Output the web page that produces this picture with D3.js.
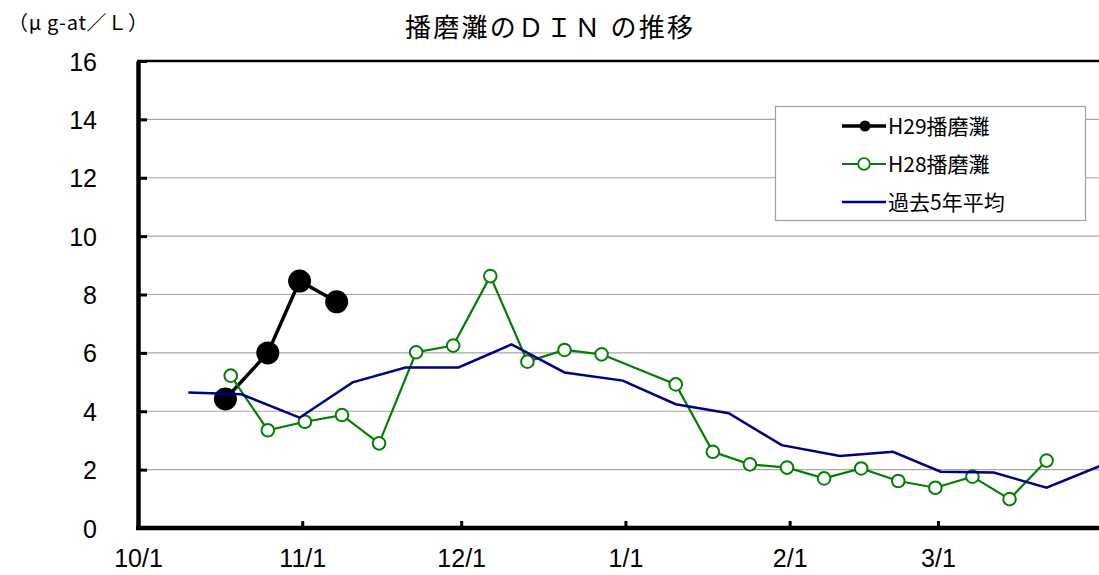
<!DOCTYPE html>
<html><head><meta charset="utf-8">
<script src="https://cdn.jsdelivr.net/npm/d3@7"></script>
<style>
html,body{margin:0;padding:0;background:#fff;}
svg{display:block;}
</style>
</head><body>
<svg id="chart" width="1099" height="575"></svg>
<script>
// ---- data ----
const title = "播磨灘のＤＩＮ の推移";
const unitLabel = "（μ g-at／Ｌ）";
const seriesNames = ["H29播磨灘", "H28播磨灘", "過去5年平均"];
const xTickLabels = ["10/1", "11/1", "12/1", "1/1", "2/1", "3/1"];
const yTicks = [0, 2, 4, 6, 8, 10, 12, 14, 16];

const h29Dates = ["10/17", "10/25", "10/31", "11/7"];
const h29Values = [4.42, 6.0, 8.46, 7.75];

const h28Dates = ["10/18", "10/25", "11/1", "11/8", "11/15", "11/22", "11/29", "12/6", "12/13", "12/20", "12/27",
  "1/10", "1/17", "1/24", "1/31", "2/7", "2/14", "2/21", "2/28", "3/7", "3/14", "3/21"];
const h28Values = [5.22, 3.35, 3.64, 3.87, 2.90, 6.02, 6.25, 8.63, 5.70, 6.10, 5.95,
  4.92, 2.61, 2.18, 2.07, 1.70, 2.04, 1.61, 1.38, 1.76, 0.99, 2.31];

const avgDates = ["10/10", "10/20", "10/31", "11/10", "11/20", "11/30", "12/10", "12/20", "12/31",
  "1/10", "1/20", "1/30", "2/10", "2/20", "3/1", "3/11", "3/21", "3/31"];
const avgValues = [4.64, 4.58, 3.78, 4.99, 5.50, 5.50, 6.29, 5.33, 5.05,
  4.24, 3.93, 2.84, 2.47, 2.61, 1.93, 1.90, 1.38, 2.12];

(function () {
// ---- helpers ----
function md(s, noon) {
  const [m, d] = s.split("/").map(Number);
  const yr = m >= 10 ? 2017 : 2018;
  return new Date(Date.UTC(yr, m - 1, d, noon ? 12 : 0));
}
const zip = (ds, vs) => ds.map((d, i) => ({date: md(d, true), v: vs[i]}));

const svg = d3.select("#chart");
const pLeft = 138, pBottom = 528, pTop = 61;
const x = d3.scaleUtc().domain([md("10/1"), md("4/1")]).range([pLeft, pLeft + 182 * 5.298]);
const y = d3.scaleLinear().domain([0, 16]).range([pBottom, pTop]);
const pRight = x.range()[1];

const latin = "'Liberation Sans', Arial, sans-serif";
const cjk = "'Noto Sans CJK JP', sans-serif";

// title & unit
svg.append("text").attr("x", 405).attr("y", 37).attr("font-family", cjk).attr("font-size", 26)
  .attr("textLength", 288).attr("lengthAdjust", "spacing").attr("fill", "#000").text(title);
svg.append("text").attr("x", 8).attr("y", 30).attr("font-family", cjk).attr("font-size", 20)
  .attr("textLength", 140).attr("lengthAdjust", "spacing").attr("fill", "#000").text(unitLabel);

// gridlines
svg.append("g").selectAll("line").data(yTicks.filter(t => t > 0 && t < 16)).join("line")
  .attr("x1", pLeft).attr("x2", pRight).attr("y1", d => y(d)).attr("y2", d => y(d))
  .attr("stroke", "#a6a6a6").attr("stroke-width", 1.2);

// frame top
svg.append("line").attr("x1", pLeft - 1).attr("x2", pRight).attr("y1", pTop).attr("y2", pTop)
  .attr("stroke", "#000").attr("stroke-width", 2.5);

// y axis
const yAxis = d3.axisLeft(y).tickValues(yTicks).tickSizeInner(-9).tickSizeOuter(0).tickPadding(0)
  .tickFormat(d3.format("d"));
const gy = svg.append("g").attr("transform", `translate(${pLeft},0)`).call(yAxis);
gy.select(".domain").attr("stroke", "#000").attr("stroke-width", 4.5);
gy.selectAll(".tick line").attr("stroke", "#000").attr("stroke-width", 3);
gy.selectAll(".tick text").attr("font-family", latin).attr("font-size", 25).attr("fill", "#000")
  .attr("x", -41).attr("text-anchor", "end").attr("dy", "0.36em");

// x axis
const xTickDates = xTickLabels.map(s => md(s));
const xAxis = d3.axisBottom(x).tickValues(xTickDates).tickSizeInner(-7).tickSizeOuter(0)
  .tickFormat((d, i) => xTickLabels[i]);
const gx = svg.append("g").attr("transform", `translate(0,${pBottom})`).call(xAxis);
gx.select(".domain").attr("stroke", "#000").attr("stroke-width", 4.5)
  .attr("d", `M${pLeft - 2},0H${pRight}`);
gx.selectAll(".tick line").attr("stroke", "#000").attr("stroke-width", 3);
gx.selectAll(".tick text").attr("font-family", latin).attr("font-size", 25).attr("fill", "#000")
  .attr("y", 39).attr("dy", 0);

const line = d3.line().x(d => x(d.date)).y(d => y(d.v));

// H29 (bottom)
const h29 = zip(h29Dates, h29Values);
svg.append("path").datum(h29).attr("d", line).attr("fill", "none").attr("stroke", "#000").attr("stroke-width", 3.5);
svg.append("g").selectAll("circle").data(h29).join("circle")
  .attr("cx", d => x(d.date)).attr("cy", d => y(d.v)).attr("r", 11.5).attr("fill", "#000");

// H28
const h28 = zip(h28Dates, h28Values);
svg.append("path").datum(h28).attr("d", line).attr("fill", "none").attr("stroke", "#008000").attr("stroke-width", 2.2);
svg.append("g").selectAll("circle").data(h28).join("circle")
  .attr("cx", d => x(d.date)).attr("cy", d => y(d.v)).attr("r", 6.3)
  .attr("fill", "#fff").attr("stroke", "#008000").attr("stroke-width", 2);

// 5-year average (top)
const avg = zip(avgDates, avgValues);
svg.append("path").datum(avg).attr("d", line).attr("fill", "none").attr("stroke", "#000080").attr("stroke-width", 2.5);

// legend
const lg = svg.append("g");
lg.append("rect").attr("x", 775.5).attr("y", 106.5).attr("width", 310).attr("height", 114)
  .attr("fill", "#fff").attr("stroke", "#a0a0a0").attr("stroke-width", 1.2);
const lgY = [126, 164, 202];
const styles = [
  {stroke: "#000", w: 3.5, marker: "filled"},
  {stroke: "#008000", w: 2, marker: "open"},
  {stroke: "#000080", w: 2.5, marker: null}
];
seriesNames.forEach((name, i) => {
  const yy = lgY[i], s = styles[i];
  lg.append("line").attr("x1", 842).attr("x2", 886).attr("y1", yy).attr("y2", yy)
    .attr("stroke", s.stroke).attr("stroke-width", s.w);
  if (s.marker === "filled") lg.append("circle").attr("cx", 865).attr("cy", yy).attr("r", 5.5).attr("fill", "#000");
  if (s.marker === "open") lg.append("circle").attr("cx", 864).attr("cy", yy).attr("r", 5.8)
    .attr("fill", "#fff").attr("stroke", "#008000").attr("stroke-width", 1.8);
  lg.append("text").attr("x", 888).attr("y", yy).attr("dy", "0.36em").attr("font-family", cjk)
    .attr("font-size", 21).attr("fill", "#000").text(name);
});
})();
</script>
</body></html>
